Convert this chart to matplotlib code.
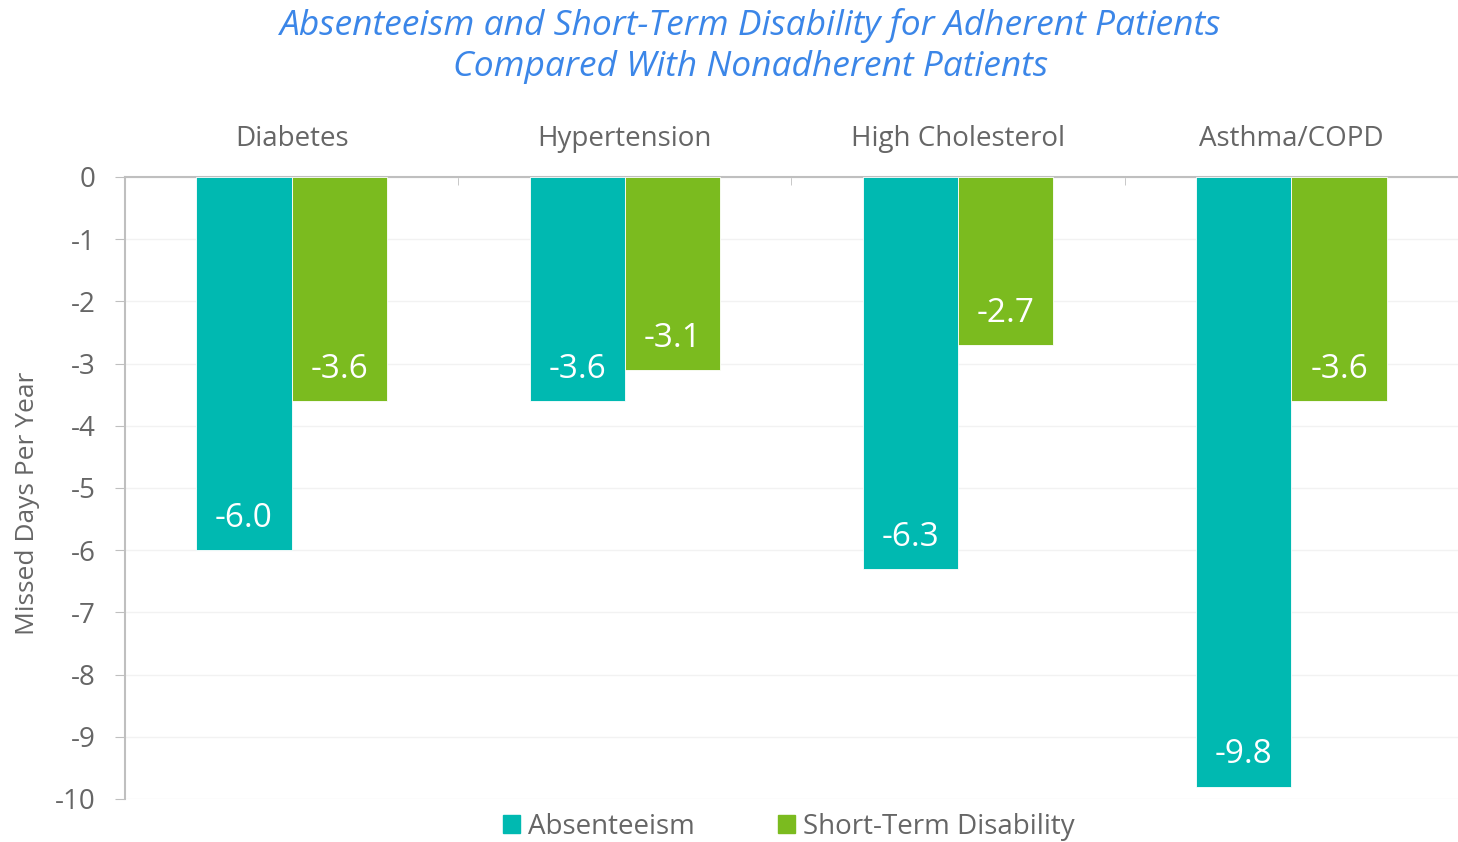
import matplotlib
matplotlib.use("Agg")
import matplotlib.pyplot as plt
import numpy as np
from matplotlib.patches import Patch

categories = ["Diabetes", "Hypertension", "High Cholesterol", "Asthma/COPD"]
absenteeism = [-6.0, -3.6, -6.3, -9.8]
short_term = [-3.6, -3.1, -2.7, -3.6]
series_names = ["Absenteeism", "Short-Term Disability"]
yticks = [0, -1, -2, -3, -4, -5, -6, -7, -8, -9, -10]

TEAL = "#00B9B1"
GREEN = "#7BBB1F"
TEXT = "#666666"
AXIS = "#BFBFBF"
TITLE = "#3B86E8"

plt.rcParams["font.family"] = ["Open Sans", "DejaVu Sans"]

fig = plt.figure(figsize=(14.58, 8.42), dpi=100)
ax = fig.add_axes([0.0857, 0.0511, 0.9143, 0.7387])

x = np.arange(len(categories))
w = 0.286
b1 = ax.bar(x - w / 2, absenteeism, w, color=TEAL, edgecolor="white", linewidth=0.6, zorder=3)
b2 = ax.bar(x + w / 2, short_term, w, color=GREEN, edgecolor="white", linewidth=0.6, zorder=3)

for bars, vals in ((b1, absenteeism), (b2, short_term)):
    for bar, v in zip(bars, vals):
        ax.text(bar.get_x() + bar.get_width() / 2, v + 0.51, f"{v:.1f}",
                ha="center", va="center", color="white", fontsize=24, zorder=4)

ax.set_xlim(-0.5, len(categories) - 0.5)
ax.set_ylim(-10, 0)
ax.set_yticks(yticks)
ax.set_yticklabels([str(t) for t in yticks])
ax.yaxis.grid(True, color="#F2F2F2", linewidth=1, zorder=0)

# category names sit above the zero line
ax.xaxis.tick_top()
ax.set_xticks(x)
ax.set_xticklabels(categories)
ax.tick_params(axis="x", which="major", length=0, pad=17, labelsize=20, labelcolor=TEXT)
ax.set_xticks(np.arange(len(categories) + 1) - 0.5, minor=True)
ax.tick_params(axis="x", which="minor", length=6, color=AXIS, direction="in", top=True)
ax.tick_params(axis="y", length=7, color=AXIS, labelsize=20, labelcolor=TEXT, pad=14)

for side in ("right", "bottom"):
    ax.spines[side].set_visible(False)
for side in ("top", "left"):
    ax.spines[side].set_color(AXIS)
    ax.spines[side].set_linewidth(1.5)

ax.set_ylabel("Missed Days Per Year", fontsize=19, color=TEXT)
ax.yaxis.set_label_coords(-0.064, 0.475)

fig.text(0.515, 0.99, "Absenteeism and Short-Term Disability for Adherent Patients\nCompared With Nonadherent Patients",
         ha="center", va="top", fontsize=25.5, style="italic", color=TITLE, linespacing=1.25)

handles = [Patch(color=TEAL), Patch(color=GREEN)]
fig.legend(handles, series_names, loc="center", bbox_to_anchor=(0.541, 0.018), ncol=2,
           frameon=False, fontsize=20, labelcolor=TEXT, handlelength=0.6, handleheight=0.6,
           handletextpad=0.3, columnspacing=3.0)

fig.savefig("out.png", dpi=100)
